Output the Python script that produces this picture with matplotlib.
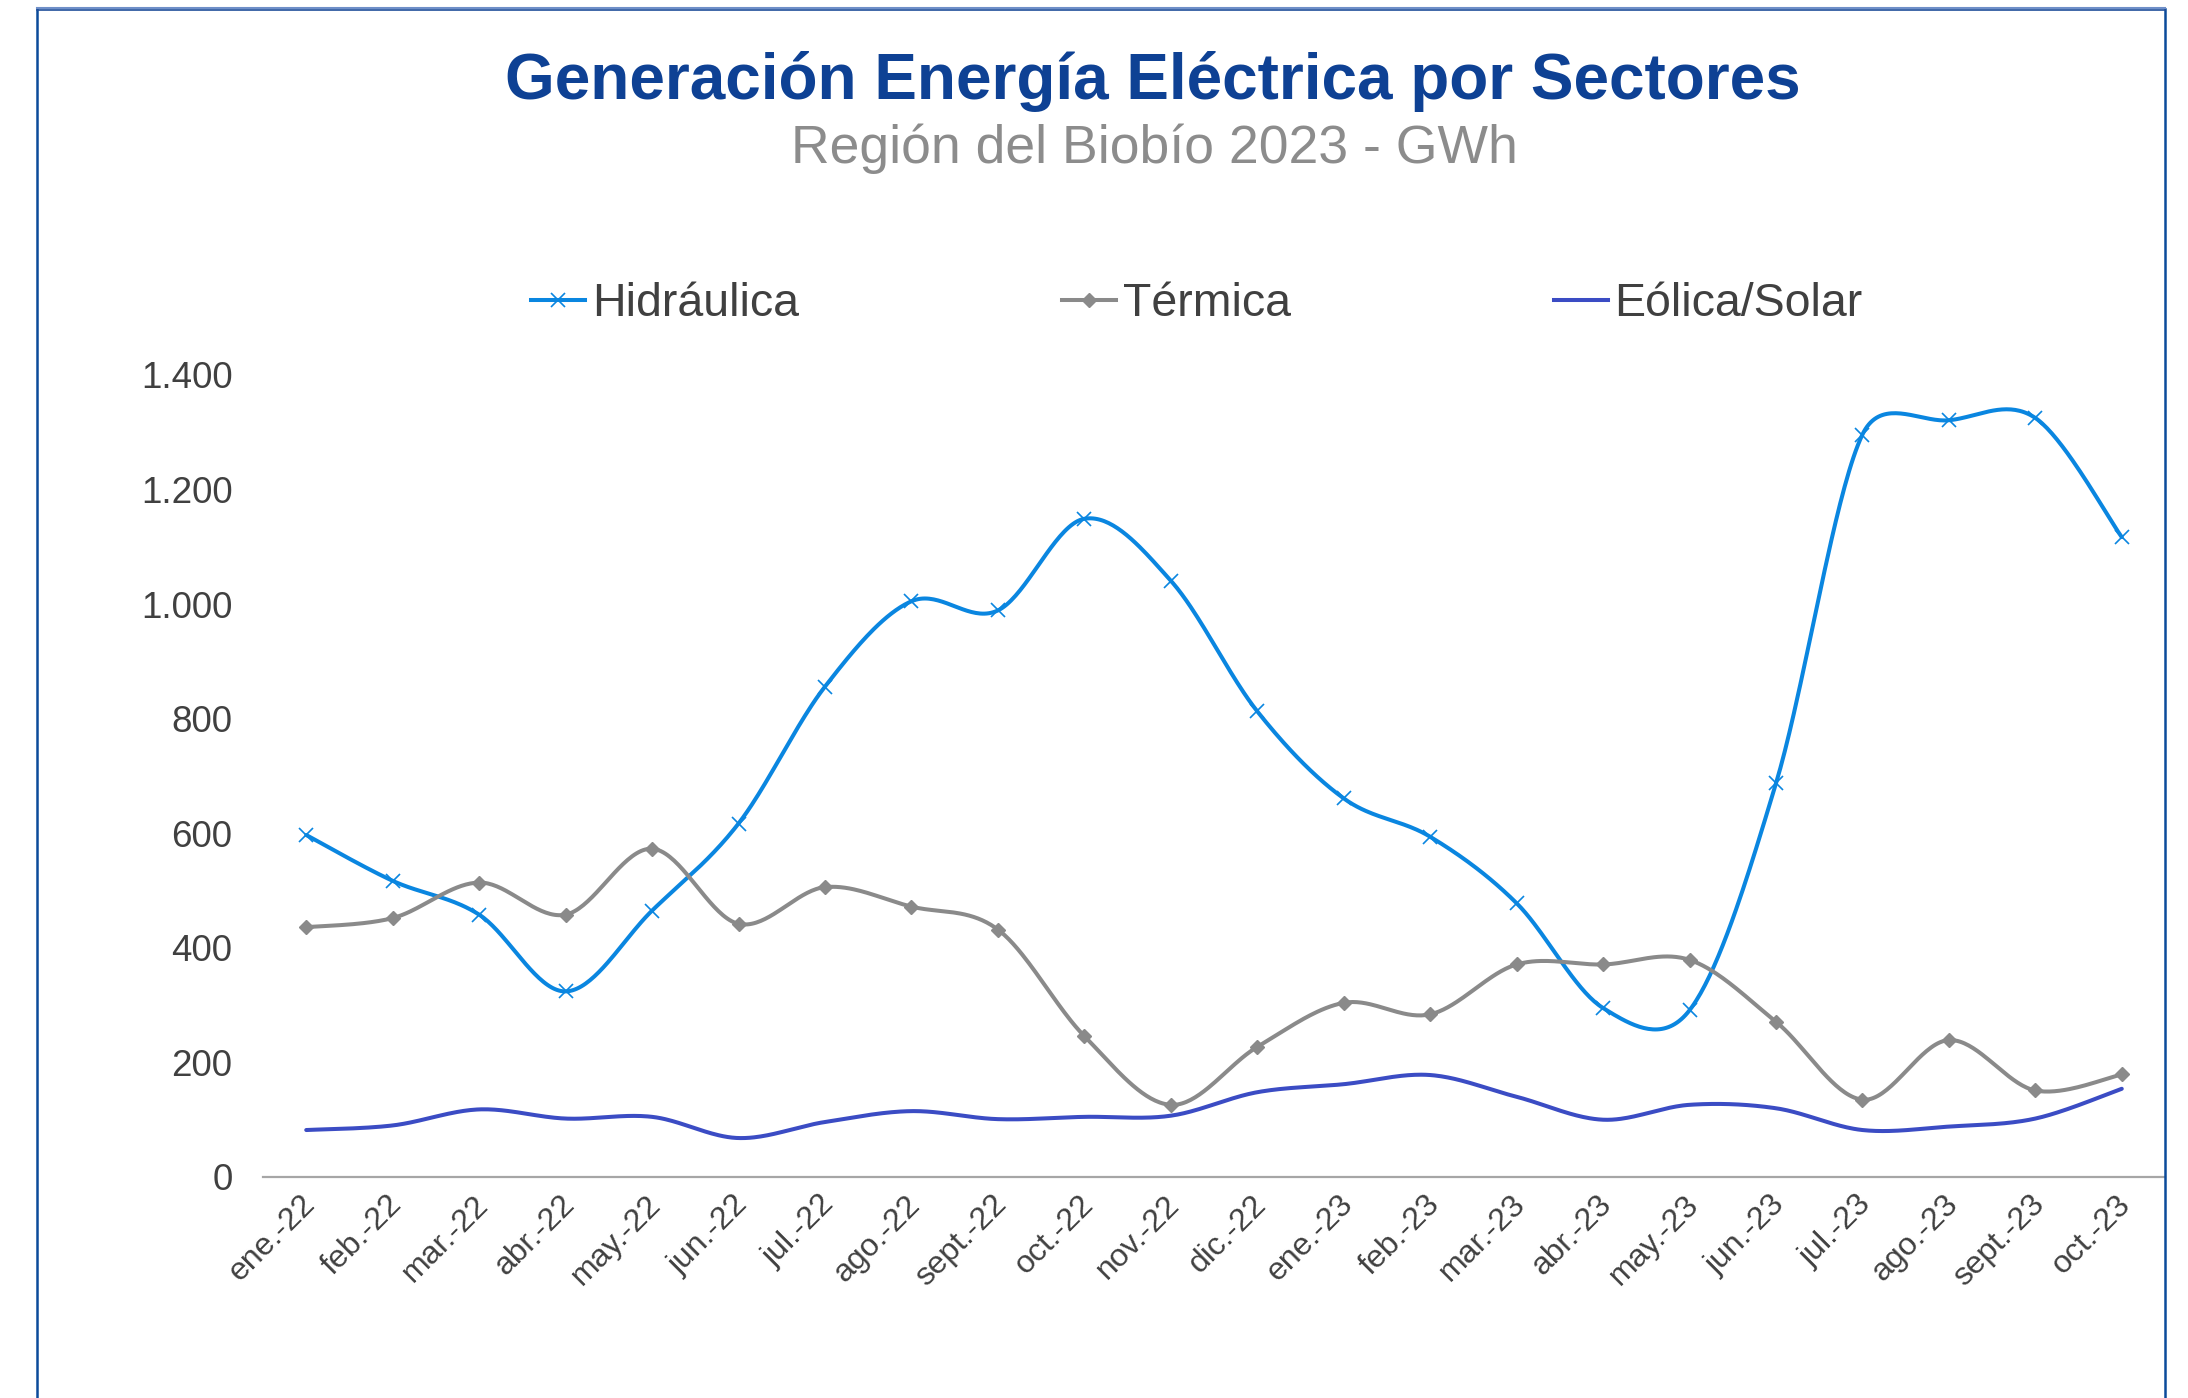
import numpy as np
import matplotlib
matplotlib.use("Agg")
import matplotlib.pyplot as plt
import matplotlib.transforms as mtransforms
from matplotlib.lines import Line2D

plt.rcParams['font.family'] = ['Liberation Sans', 'DejaVu Sans']

months = ["ene.-22", "feb.-22", "mar.-22", "abr.-22", "may.-22", "jun.-22",
          "jul.-22", "ago.-22", "sept.-22", "oct.-22", "nov.-22", "dic.-22",
          "ene.-23", "feb.-23", "mar.-23", "abr.-23", "may.-23", "jun.-23",
          "jul.-23", "ago.-23", "sept.-23", "oct.-23"]
hidraulica = [597, 517, 458, 324, 465, 617, 856, 1005, 989, 1149, 1041, 813,
              661, 594, 478, 295, 291, 687, 1296, 1321, 1325, 1117]
termica = [436, 452, 514, 458, 573, 442, 506, 472, 432, 246, 126, 227,
           304, 284, 371, 371, 379, 271, 135, 239, 151, 179]
eolica = [82, 90, 118, 102, 105, 68, 96, 115, 101, 105, 107, 148,
          162, 178, 140, 100, 126, 120, 82, 88, 102, 154]
yticks = [0, 200, 400, 600, 800, 1000, 1200, 1400]
ytick_labels = ["0", "200", "400", "600", "800", "1.000", "1.200", "1.400"]
series_names = ["Hidráulica", "Térmica", "Eólica/Solar"]

C_HID = "#0A86E0"
C_TER = "#8A8A8A"
C_EOL = "#3B4CC4"
NAVY = "#0E4194"
TXT = "#404040"

W, H = 2188, 1398
AX_L, AX_R, AX_T, AX_B = 263, 2165, 375, 1177
YMAX = 1400


def smooth(yvals, sx, sy, n=40):
    """Excel-like smoothed line: Bezier segments whose handles are
    (p2-p0)/6, limited to half the segment length (in pixel space)."""
    y = np.asarray(yvals, float)
    x = np.arange(len(y), dtype=float)
    P = np.column_stack([x * sx, y * sy])
    out = [P[0]]
    t = np.linspace(0, 1, n)[1:]
    for i in range(len(P) - 1):
        p0 = P[i - 1] if i > 0 else P[i]
        p1 = P[i]
        p2 = P[i + 1]
        p3 = P[i + 2] if i + 2 < len(P) else P[i + 1]
        seg_len = np.linalg.norm(p2 - p1)
        h1 = (p2 - p0) / 6.0
        h2 = (p3 - p1) / 6.0
        n1, n2 = np.linalg.norm(h1), np.linalg.norm(h2)
        if n1 > seg_len / 2:
            h1 *= (seg_len / 2) / n1
        if n2 > seg_len / 2:
            h2 *= (seg_len / 2) / n2
        b1 = p1 + h1
        b2 = p2 - h2
        seg = ((1 - t)[:, None] ** 3 * p1 + 3 * ((1 - t) ** 2 * t)[:, None] * b1
               + 3 * ((1 - t) * t ** 2)[:, None] * b2 + (t ** 3)[:, None] * p2)
        out.extend(seg)
    out = np.array(out)
    return out[:, 0] / sx, out[:, 1] / sy


fig = plt.figure(figsize=(W / 100, H / 100), dpi=100)

# frame
fig.add_artist(Line2D([37 / W, 37 / W], [0, 1 - 9 / H], transform=fig.transFigure,
                      color="#0B4A9A", lw=1.8))
fig.add_artist(Line2D([2165 / W, 2165 / W], [0, 1 - 9 / H], transform=fig.transFigure,
                      color="#0B4A9A", lw=1.8))
fig.add_artist(Line2D([37 / W, 2165 / W], [1 - 8 / H, 1 - 8 / H], transform=fig.transFigure,
                      color="#6F8FC8", lw=1.5))
fig.add_artist(Line2D([37 / W, 2165 / W], [1 - 10 / H, 1 - 10 / H], transform=fig.transFigure,
                      color="#1F4E9A", lw=1.2))

ax = fig.add_axes([AX_L / W, 1 - AX_B / H, (AX_R - AX_L) / W, (AX_B - AX_T) / H])
x = np.arange(len(months))
sx = (AX_R - AX_L) / len(months)
sy = (AX_B - AX_T) / YMAX

LW = 2.9
xs, ys = smooth(hidraulica, sx, sy)
ax.plot(xs, ys, color=C_HID, lw=LW, solid_capstyle="round", zorder=3)
ax.plot(x, hidraulica, ls="none", marker="x", ms=9.5, mew=1.2, color=C_HID, zorder=4)

xs, ys = smooth(termica, sx, sy)
ax.plot(xs, ys, color=C_TER, lw=LW, solid_capstyle="round", zorder=3)
ax.plot(x, termica, ls="none", marker="D", ms=7.5, color=C_TER, zorder=4)

xs, ys = smooth(eolica, sx, sy)
ax.plot(xs, ys, color=C_EOL, lw=LW, solid_capstyle="round", zorder=5)

ax.set_xlim(-0.5, len(months) - 0.5)
ax.set_ylim(0, YMAX)
ax.set_yticks(yticks)
ax.set_yticklabels(ytick_labels)
ax.set_xticks(x)
ax.set_xticklabels(months, rotation=45, ha="right", rotation_mode="anchor")
ax.tick_params(axis="y", length=0, pad=22, labelsize=26.5, labelcolor=TXT)
ax.tick_params(axis="x", length=0, pad=9, labelsize=23, labelcolor=TXT)
shift = mtransforms.ScaledTranslation(-6 / 100, 0, fig.dpi_scale_trans)
for lab in ax.get_xticklabels():
    lab.set_transform(lab.get_transform() + shift)
for s in ["top", "right", "left"]:
    ax.spines[s].set_visible(False)
ax.spines["bottom"].set_color("#A6A6A6")
ax.spines["bottom"].set_linewidth(1.6)

# titles
fig.text(1153 / W, 1 - 99 / H, "Generación Energía Eléctrica por Sectores",
         ha="center", va="baseline", fontsize=46, fontweight="bold", color=NAVY)
fig.text(1154 / W, 1 - 163 / H, "Región del Biobío 2023 - GWh",
         ha="center", va="baseline", fontsize=38.5, color="#8C8C8C")

handles = [
    Line2D([], [], color=C_HID, lw=LW, marker="x", ms=9.5, mew=1.2),
    Line2D([], [], color=C_TER, lw=LW, marker="D", ms=7.5),
    Line2D([], [], color=C_EOL, lw=LW),
]
leg = fig.legend(handles, series_names, loc="center left",
                 bbox_to_anchor=(531 / W, 1 - 304 / H), ncol=3, frameon=False,
                 fontsize=33.5, handlelength=1.16, handletextpad=0.15,
                 columnspacing=5.65, borderpad=0, borderaxespad=0)
for t in leg.get_texts():
    t.set_color(TXT)

fig.savefig("out.png", dpi=100)
